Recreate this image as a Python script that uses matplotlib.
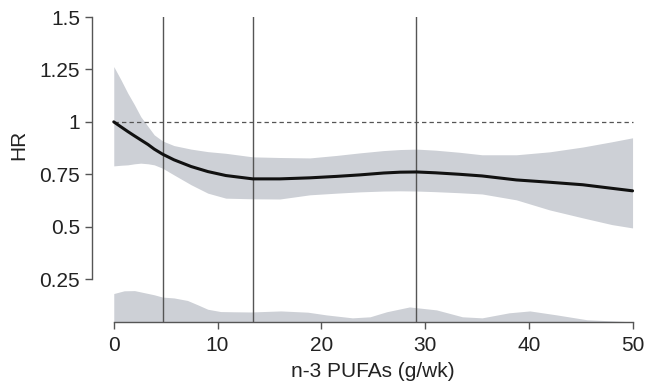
import matplotlib
matplotlib.use("Agg")
import matplotlib.pyplot as plt

plt.rcParams['font.family'] = ['Liberation Sans', 'DejaVu Sans']

# Spline estimate of HR by n-3 PUFA intake
x_pts = [0, 0.7, 1.35, 2.0, 2.6, 3.3, 3.9, 4.7, 5.8, 7.45, 9.06, 10.8, 13.4,
         16, 18.9, 21.5, 23.7, 26, 27.6, 29.2, 31, 33.3, 35.5, 38.8, 42,
         45.2, 48, 50]
hr = [1.0, 0.976, 0.954, 0.933, 0.914, 0.892, 0.87, 0.846, 0.819, 0.787,
      0.763, 0.744, 0.728, 0.728, 0.733, 0.740, 0.747, 0.756, 0.760, 0.761,
      0.757, 0.750, 0.742, 0.723, 0.712, 0.70, 0.683, 0.671]
upper = [1.264, 1.20, 1.137, 1.081, 1.025, 0.978, 0.938, 0.909, 0.887, 0.87,
         0.858, 0.85, 0.833, 0.83, 0.828, 0.840, 0.852, 0.863, 0.868, 0.870,
         0.865, 0.855, 0.843, 0.843, 0.857, 0.88, 0.905, 0.924]
lower = [0.79, 0.793, 0.795, 0.80, 0.803, 0.80, 0.795, 0.779, 0.747, 0.70,
         0.66, 0.636, 0.633, 0.632, 0.652, 0.660, 0.666, 0.670, 0.671, 0.670,
         0.667, 0.662, 0.656, 0.628, 0.58, 0.542, 0.51, 0.494]

# Distribution of intake (density strip at the bottom)
dens_x = [0, 1.0, 2.0, 2.95, 3.9, 4.7, 5.8, 7.1, 8.1, 9.06, 10.3, 11.5, 13.2,
          16.1, 18.7, 20.5, 23, 24.7, 26.3, 28.5, 31.1, 33.6, 35.5, 38.1,
          40.1, 42.7, 45.6, 50]
dens_y = [0.181, 0.194, 0.195, 0.185, 0.175, 0.164, 0.16, 0.148, 0.127, 0.106,
          0.095, 0.094, 0.093, 0.098, 0.092, 0.079, 0.065, 0.07, 0.094, 0.117,
          0.103, 0.07, 0.065, 0.089, 0.098, 0.079, 0.056, 0.046]

cut_points = [4.7, 13.4, 29.1]

y_bottom = 0.045
band_col = '#cdd0d6'
line_col = '#555555'
text_col = '#222222'

fig = plt.figure(figsize=(6.46, 3.88), dpi=100)
ax = fig.add_axes([0.1424, 0.170, 0.840, 0.786])

ax.fill_between(dens_x, y_bottom, dens_y, color=band_col, lw=0, zorder=1)
ax.fill_between(x_pts, lower, upper, color=band_col, lw=0, zorder=1)
for c in cut_points:
    ax.axvline(c, color=line_col, lw=1.0, zorder=2)
ax.plot([0, 50], [1, 1], color=line_col, lw=0.9, ls=(0, (3.5, 2.5)), zorder=2)
ax.plot(x_pts, hr, color='#111111', lw=2.2, zorder=3,
        solid_capstyle='round', solid_joinstyle='round')

ax.set_xlim(-2.1, 50.2)
ax.set_ylim(y_bottom, 1.5)
ax.set_xticks([0, 10, 20, 30, 40, 50])
ax.set_yticks([0.25, 0.5, 0.75, 1, 1.25, 1.5])
ax.set_yticklabels(['0.25', '0.5', '0.75', '1', '1.25', '1.5'])

for s in ['top', 'right']:
    ax.spines[s].set_visible(False)
ax.spines['left'].set_bounds(0.25, 1.5)
ax.spines['bottom'].set_bounds(0, 50)
for s in ['left', 'bottom']:
    ax.spines[s].set_color(line_col)
    ax.spines[s].set_linewidth(1.0)
ax.tick_params(axis='both', colors=line_col, length=5, width=1.0,
               labelsize=15, labelcolor=text_col)
ax.tick_params(axis='x', pad=5)

ax.set_xlabel('n-3 PUFAs (g/wk)', fontsize=15, color=text_col)
ax.set_ylabel('HR', fontsize=15, color=text_col)
ax.xaxis.set_label_coords(0.518, -0.132)
ax.yaxis.set_label_coords(-0.117, 0.58)

fig.savefig('out.png', dpi=100)
